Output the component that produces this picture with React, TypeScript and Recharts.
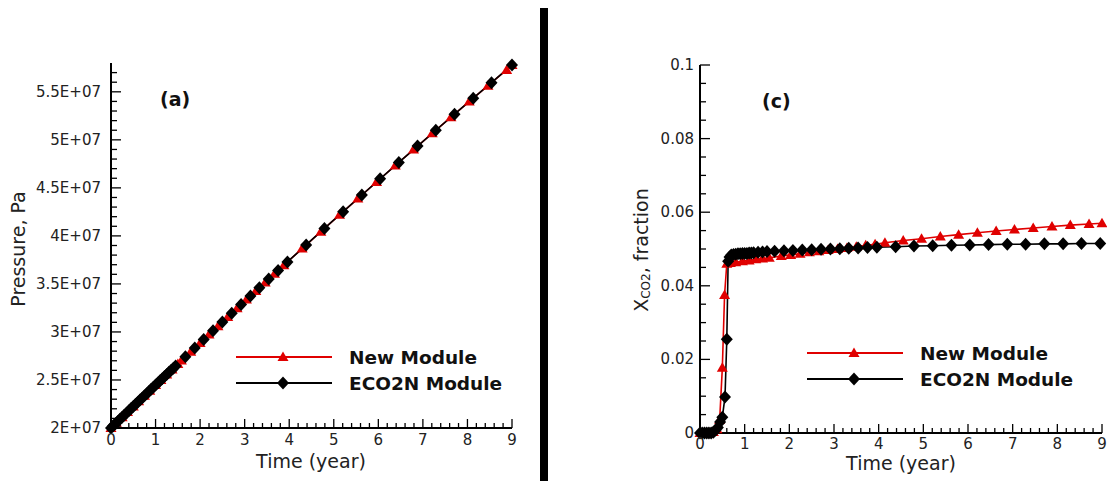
import { LineChart, Line, XAxis, YAxis, Legend } from "recharts"

const FONT = "'DejaVu Sans', 'Open Sans', sans-serif"
const RED = "#e00000"
const INK = "#222222"

// panel (a): pressure (Pa) against time (year)
const timeEco2nA = [0, 0.05, 0.1, 0.15, 0.2, 0.25, 0.3, 0.35, 0.4, 0.45, 0.5, 0.55, 0.6, 0.65, 0.7, 0.75, 0.8, 0.85, 0.9, 0.95, 1.0, 1.05, 1.1, 1.15, 1.2, 1.25, 1.3, 1.35, 1.4, 1.45, 1.67, 1.88, 2.08, 2.29, 2.5, 2.71, 2.92, 3.13, 3.33, 3.54, 3.75, 3.96, 4.38, 4.79, 5.21, 5.63, 6.04, 6.46, 6.88, 7.29, 7.71, 8.13, 8.54, 9.0]
const pressureEco2nA = [2.0e7, 2.0225e7, 2.045e7, 2.0674e7, 2.0899e7, 2.1123e7, 2.1347e7, 2.1571e7, 2.1795e7, 2.2018e7, 2.2242e7, 2.2465e7, 2.2688e7, 2.2911e7, 2.3133e7, 2.3356e7, 2.3578e7, 2.38e7, 2.4022e7, 2.4244e7, 2.4466e7, 2.4688e7, 2.4909e7, 2.513e7, 2.5351e7, 2.5572e7, 2.5793e7, 2.6013e7, 2.6233e7, 2.6454e7, 2.742e7, 2.834e7, 2.921e7, 3.013e7, 3.104e7, 3.195e7, 3.285e7, 3.375e7, 3.461e7, 3.55e7, 3.64e7, 3.729e7, 3.906e7, 4.078e7, 4.252e7, 4.426e7, 4.594e7, 4.765e7, 4.935e7, 5.1e7, 5.267e7, 5.434e7, 5.595e7, 5.78e7]
const timeNewA = [0, 0.12, 0.25, 0.37, 0.5, 0.62, 0.75, 0.87, 1.0, 1.12, 1.25, 1.37, 1.5, 1.58, 1.79, 2.0, 2.2, 2.4, 2.62, 2.83, 3.04, 3.25, 3.46, 3.67, 3.88, 4.29, 4.71, 5.13, 5.54, 5.96, 6.38, 6.79, 7.21, 7.63, 8.04, 8.46, 8.88, 9.0]
const pressureNewA = [2.0e7, 2.054e7, 2.112e7, 2.166e7, 2.224e7, 2.278e7, 2.336e7, 2.389e7, 2.447e7, 2.5e7, 2.557e7, 2.61e7, 2.667e7, 2.703e7, 2.795e7, 2.886e7, 2.974e7, 3.06e7, 3.156e7, 3.246e7, 3.337e7, 3.427e7, 3.516e7, 3.606e7, 3.695e7, 3.868e7, 4.044e7, 4.219e7, 4.389e7, 4.561e7, 4.733e7, 4.899e7, 5.068e7, 5.236e7, 5.398e7, 5.564e7, 5.728e7, 5.78e7]

// panel (c): CO2 mass fraction against time (year)
const timeEco2nC = [0, 0.05, 0.1, 0.15, 0.2, 0.25, 0.3, 0.35, 0.4, 0.45, 0.5, 0.56, 0.6, 0.63, 0.66, 0.7, 0.75, 0.8, 0.85, 0.9, 0.95, 1.0, 1.05, 1.1, 1.15, 1.2, 1.3, 1.4, 1.5, 1.67, 1.88, 2.08, 2.29, 2.5, 2.71, 2.92, 3.13, 3.33, 3.54, 3.75, 3.96, 4.38, 4.79, 5.21, 5.63, 6.04, 6.46, 6.88, 7.29, 7.71, 8.13, 8.54, 8.96]
const xco2Eco2nC = [0, 0, 0, 0, 0, 0, 0.0002, 0.0008, 0.0015, 0.003, 0.0043, 0.0098, 0.0255, 0.0467, 0.0478, 0.0484, 0.0485, 0.0486, 0.0487, 0.0487, 0.0488, 0.0488, 0.0488, 0.0489, 0.0489, 0.049, 0.0491, 0.0492, 0.0493, 0.0494, 0.0495, 0.0496, 0.0497, 0.0498, 0.0499, 0.05, 0.0501, 0.0502, 0.0503, 0.0504, 0.0505, 0.0506, 0.0508, 0.0509, 0.051, 0.0511, 0.0512, 0.0513, 0.0513, 0.0514, 0.0514, 0.0515, 0.0515]
const timeNewC = [0, 0.1, 0.2, 0.3, 0.38, 0.44, 0.5, 0.55, 0.6, 0.68, 0.8, 0.95, 1.1, 1.25, 1.4, 1.55, 1.82, 2.03, 2.24, 2.45, 2.66, 2.87, 3.08, 3.29, 3.5, 3.71, 3.92, 4.14, 4.55, 4.96, 5.38, 5.79, 6.21, 6.63, 7.04, 7.46, 7.88, 8.29, 8.71, 9.0]
const xco2NewC = [0, 0, 0, 0.0003, 0.001, 0.0035, 0.0177, 0.0375, 0.046, 0.0462, 0.0464, 0.0467, 0.0469, 0.0472, 0.0474, 0.0476, 0.0481, 0.0484, 0.0487, 0.0491, 0.0494, 0.0497, 0.05, 0.0503, 0.0506, 0.051, 0.0513, 0.0517, 0.0523, 0.0528, 0.0534, 0.0539, 0.0544, 0.0549, 0.0553, 0.0557, 0.0561, 0.0565, 0.0568, 0.057]

const seriesNames = ["New Module", "ECO2N Module"]

const xTicks = [0, 1, 2, 3, 4, 5, 6, 7, 8, 9]
const xLabels = ["0", "1", "2", "3", "4", "5", "6", "7", "8", "9"]
const yTicksA = [2e7, 2.5e7, 3e7, 3.5e7, 4e7, 4.5e7, 5e7, 5.5e7]
const yLabelsA = ["2E+07", "2.5E+07", "3E+07", "3.5E+07", "4E+07", "4.5E+07", "5E+07", "5.5E+07"]
const yTicksC = [0, 0.02, 0.04, 0.06, 0.08, 0.1]
const yLabelsC = ["0", "0.02", "0.04", "0.06", "0.08", "0.1"]

// minor tick positions (major ones included)
const steps = (lo: number, hi: number, step: number) =>
  Array.from({ length: Math.round((hi - lo) / step) + 1 }, (_, i) => Number((lo + i * step).toPrecision(12)))
const xMinor = steps(0, 9, 0.2)
const yMinorA = steps(2e7, 5.7e7, 1e6)
const yMinorC = steps(0, 0.1, 0.005)

const zip = (ts: number[], vs: number[]) => ts.map((t, i) => ({ t, v: vs[i] }))

type TickProps = {
  x?: number
  y?: number
  payload?: { value: number }
  majors: number[]
  labels: string[]
  eps: number
  dy: number
}

function BottomTick({ x = 0, y = 0, payload, majors, labels, eps, dy }: TickProps) {
  const v = payload ? payload.value : 0
  const i = majors.findIndex((m) => Math.abs(m - v) < eps)
  return (
    <g>
      <line x1={x} x2={x} y1={y} y2={y - (i >= 0 ? 9 : 5)} stroke="#000" strokeWidth={1.3} />
      {i >= 0 && (
        <text x={x} y={y + dy} textAnchor="middle" fontFamily={FONT} fontSize={15} fill={INK}>
          {labels[i]}
        </text>
      )}
    </g>
  )
}

function LeftTick({ x = 0, y = 0, payload, majors, labels, eps, dy }: TickProps) {
  const v = payload ? payload.value : 0
  const i = majors.findIndex((m) => Math.abs(m - v) < eps)
  return (
    <g>
      <line x1={x} x2={x + (i >= 0 ? 10 : 6)} y1={y} y2={y} stroke="#000" strokeWidth={1.3} />
      {i >= 0 && (
        <text x={x - dy} y={y} textAnchor="end" dominantBaseline="central" fontFamily={FONT} fontSize={15} fill={INK}>
          {labels[i]}
        </text>
      )}
    </g>
  )
}

function TriangleDot(p: any) {
  const { cx, cy } = p
  if (cx == null || cy == null) return null
  return <polygon points={`${cx},${cy - 5.5} ${cx + 5.5},${cy + 4} ${cx - 5.5},${cy + 4}`} fill={RED} />
}

function DiamondDot(p: any) {
  const { cx, cy } = p
  if (cx == null || cy == null) return null
  return <polygon points={`${cx},${cy - 6.5} ${cx + 6},${cy} ${cx},${cy + 6.5} ${cx - 6},${cy}`} fill="#000" />
}

function LegendKey() {
  return (
    <svg width={300} height={56} style={{ overflow: "visible", display: "block" }}>
      <line x1={0} x2={96} y1={13} y2={13} stroke={RED} strokeWidth={2} />
      <TriangleDot cx={47} cy={13} />
      <text x={113} y={13} dominantBaseline="central" fontFamily={FONT} fontWeight={700} fontSize={18.5} fill="#111">
        {seriesNames[0]}
      </text>
      <line x1={0} x2={96} y1={39} y2={39} stroke="#000" strokeWidth={2} />
      <DiamondDot cx={47} cy={39} />
      <text x={113} y={39} dominantBaseline="central" fontFamily={FONT} fontWeight={700} fontSize={18.5} fill="#111">
        {seriesNames[1]}
      </text>
    </svg>
  )
}

const axisStroke = { stroke: "#000", strokeWidth: 2 }

export default function App() {
  return (
    <div style={{ position: "absolute", left: 0, top: 0, width: 1107, height: 481, background: "#fff", overflow: "hidden" }}>
      <div style={{ position: "absolute", left: 0, top: 0 }}>
        <LineChart width={530} height={481} margin={{ top: 63, right: 18, bottom: 3, left: 11 }}>
          <XAxis
            dataKey="t"
            type="number"
            domain={[0, 9]}
            ticks={xMinor}
            interval={0}
            height={50}
            tickSize={0}
            tickMargin={0}
            tickLine={false}
            axisLine={axisStroke}
            tick={<BottomTick majors={xTicks} labels={xLabels} eps={0.01} dy={17} />}
            label={() => (
              <text x={311} y={468} textAnchor="middle" fontFamily={FONT} fontSize={19} fill={INK}>
                Time (year)
              </text>
            )}
          />
          <YAxis
            type="number"
            domain={[2e7, 5.8e7]}
            ticks={yMinorA}
            interval={0}
            width={100}
            tickSize={0}
            tickMargin={0}
            tickLine={false}
            axisLine={axisStroke}
            tick={<LeftTick majors={yTicksA} labels={yLabelsA} eps={1e4} dy={10} />}
            label={() => (
              <text x={18} y={249} transform="rotate(-90 18 249)" textAnchor="middle" dominantBaseline="central" fontFamily={FONT} fontSize={19} fill={INK}>
                Pressure, Pa
              </text>
            )}
          />
          <XAxis xAxisId="frame" orientation="top" type="number" domain={[0, 9]} height={0} tick={false} tickLine={false} axisLine={axisStroke} />
          <YAxis yAxisId="frame" orientation="right" type="number" domain={[0, 1]} width={0} tick={false} tickLine={false} axisLine={axisStroke} />
          <Line
            data={zip(timeNewA, pressureNewA)}
            dataKey="v"
            name={seriesNames[0]}
            type="linear"
            stroke={RED}
            strokeWidth={1.6}
            dot={(p: any) => <TriangleDot key={p.index} {...p} />}
            activeDot={false}
            isAnimationActive={false}
          />
          <Line
            data={zip(timeEco2nA, pressureEco2nA)}
            dataKey="v"
            name={seriesNames[1]}
            type="linear"
            stroke="#000"
            strokeWidth={1.6}
            dot={(p: any) => <DiamondDot key={p.index} {...p} />}
            activeDot={false}
            isAnimationActive={false}
          />
          <Legend layout="vertical" align="center" verticalAlign="middle" wrapperStyle={{ left: 236, top: 344, width: 300 }} content={() => <LegendKey />} />
        </LineChart>
      </div>

      <div style={{ position: "absolute", left: 540, top: 8, width: 8, height: 473, background: "#000" }} />

      <div style={{ position: "absolute", left: 560, top: 0 }}>
        <LineChart width={547} height={481} margin={{ top: 65, right: 5, bottom: 3, left: 0 }}>
          <XAxis
            dataKey="t"
            type="number"
            domain={[0, 9]}
            ticks={xMinor}
            interval={0}
            height={45}
            tickSize={0}
            tickMargin={0}
            tickLine={false}
            axisLine={axisStroke}
            tick={<BottomTick majors={xTicks} labels={xLabels} eps={0.01} dy={16} />}
            label={() => (
              <text x={341} y={470} textAnchor="middle" fontFamily={FONT} fontSize={19} fill={INK}>
                Time (year)
              </text>
            )}
          />
          <YAxis
            type="number"
            domain={[0, 0.1]}
            ticks={yMinorC}
            interval={0}
            width={140}
            tickSize={0}
            tickMargin={0}
            tickLine={false}
            axisLine={axisStroke}
            tick={<LeftTick majors={yTicksC} labels={yLabelsC} eps={1e-5} dy={6} />}
            label={() => (
              <text x={81} y={250} transform="rotate(-90 81 250)" textAnchor="middle" dominantBaseline="central" fontFamily={FONT} fontSize={19} fill={INK}>
                X
                <tspan fontSize={12} dy={5}>CO2</tspan>
                <tspan dy={-5}>, fraction</tspan>
              </text>
            )}
          />
          <XAxis xAxisId="frame" orientation="top" type="number" domain={[0, 9]} height={0} tick={false} tickLine={false} axisLine={axisStroke} />
          <YAxis yAxisId="frame" orientation="right" type="number" domain={[0, 1]} width={0} tick={false} tickLine={false} axisLine={axisStroke} />
          <Line
            data={zip(timeNewC, xco2NewC)}
            dataKey="v"
            name={seriesNames[0]}
            type="linear"
            stroke={RED}
            strokeWidth={1.6}
            dot={(p: any) => <TriangleDot key={p.index} {...p} />}
            activeDot={false}
            isAnimationActive={false}
          />
          <Line
            data={zip(timeEco2nC, xco2Eco2nC)}
            dataKey="v"
            name={seriesNames[1]}
            type="linear"
            stroke="#000"
            strokeWidth={1.6}
            dot={(p: any) => <DiamondDot key={p.index} {...p} />}
            activeDot={false}
            isAnimationActive={false}
          />
          <Legend layout="vertical" align="center" verticalAlign="middle" wrapperStyle={{ left: 247, top: 340, width: 300 }} content={() => <LegendKey />} />
        </LineChart>
      </div>

      <span style={{ position: "absolute", left: 160, top: 85, fontFamily: FONT, fontWeight: 700, fontSize: 19, color: "#111", lineHeight: "28px" }}>(a)</span>
      <span style={{ position: "absolute", left: 762, top: 87, fontFamily: FONT, fontWeight: 700, fontSize: 19, color: "#111", lineHeight: "28px" }}>(c)</span>
    </div>
  )
}
